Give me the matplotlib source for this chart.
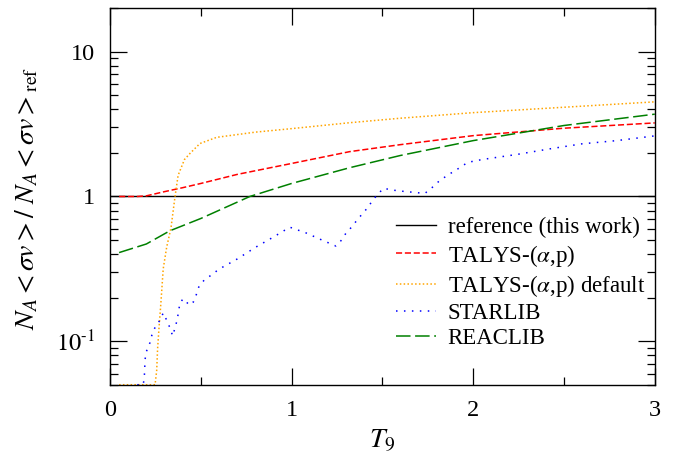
import numpy as np
import matplotlib
matplotlib.use("Agg")
import matplotlib.pyplot as plt
from matplotlib.ticker import FixedLocator, LogLocator, NullFormatter, MultipleLocator

plt.rcParams["font.family"] = ["Liberation Serif", "DejaVu Serif"]
plt.rcParams["mathtext.fontset"] = "stix"

# ---- data ----
ref_x = [0.0, 3.0]
ref_y = [1.0, 1.0]

talys_x = [0.05, 0.1, 0.15, 0.2, 0.3, 0.4, 0.5, 0.7, 1.0, 1.32, 1.6, 2.0, 2.5, 3.0]
talys_y = [1.0, 1.0, 1.0, 1.01, 1.08, 1.15, 1.23, 1.42, 1.69, 2.04, 2.28, 2.63, 2.96, 3.22]

default_x = [0.05, 0.248, 0.257, 0.262, 0.27, 0.28, 0.293, 0.312, 0.336, 0.358,
             0.375, 0.41, 0.44, 0.495, 0.587, 0.8, 1.0, 1.32, 1.6, 2.0, 2.5, 3.0]
default_y = [0.0502, 0.0502, 0.063, 0.089, 0.125, 0.183, 0.317, 0.447, 0.61, 1.0,
             1.4, 1.8, 1.98, 2.32, 2.56, 2.78, 2.94, 3.23, 3.47, 3.79, 4.13, 4.5]

starlib_x = [0.15, 0.183, 0.189, 0.193, 0.2, 0.22, 0.23, 0.248, 0.275, 0.293,
             0.312, 0.33, 0.345, 0.358, 0.37, 0.385, 0.403, 0.437, 0.459, 0.477,
             0.49, 0.52, 0.56, 0.6, 0.7, 0.8, 0.9, 0.99, 1.08, 1.16,
             1.244, 1.275, 1.3, 1.33, 1.36, 1.39, 1.42, 1.446, 1.473, 1.506,
             1.55, 1.6, 1.734, 1.78, 1.816, 1.87, 1.926, 1.97, 2.05, 2.24,
             2.42, 2.6, 2.79, 3.0]
starlib_y = [0.0502, 0.0502, 0.057, 0.075, 0.085, 0.098, 0.11, 0.125, 0.14, 0.157,
             0.14, 0.124, 0.109, 0.124, 0.141, 0.184, 0.197, 0.178, 0.187, 0.213,
             0.24, 0.266, 0.288, 0.315, 0.37, 0.445, 0.525, 0.614, 0.56, 0.505,
             0.455, 0.5, 0.56, 0.614, 0.686, 0.76, 0.84, 0.94, 1.03, 1.14,
             1.11, 1.09, 1.05, 1.17, 1.29, 1.43, 1.58, 1.72, 1.80, 1.95,
             2.13, 2.31, 2.43, 2.62]

reaclib_x = [0.05, 0.2, 0.33, 0.5, 0.77, 1.0, 1.32, 1.6, 2.0, 2.5, 3.0]
reaclib_y = [0.41, 0.47, 0.58, 0.705, 1.0, 1.23, 1.58, 1.92, 2.43, 3.09, 3.7]

# ---- figure ----
fig = plt.figure(figsize=(6.75, 4.62), dpi=100)
ax = fig.add_axes([0.163, 0.1667, 0.807, 0.816])

ax.plot(ref_x, ref_y, color="black", lw=1.0, label="reference (this work)")
ax.plot(talys_x, talys_y, color="#ff0000", lw=1.1, ls=(0, (4, 1.8)),
        label=r"TALYS-($\alpha$,p)")
ax.plot(default_x, default_y, color="#ffa500", lw=1.1, ls=(0, (1, 1.5)),
        label=r"TALYS-($\alpha$,p) default")
ax.plot(starlib_x, starlib_y, color="#0000ff", lw=1.1, ls=(0, (1, 4.2)),
        label="STARLIB")
ax.plot(reaclib_x, reaclib_y, color="#008000", lw=1.1, ls=(0, (9.5, 3)),
        label="REACLIB")

ax.set_yscale("log")
ax.set_xlim(0, 3)
ax.set_ylim(0.05, 20)

ax.xaxis.set_major_locator(MultipleLocator(1))
ax.xaxis.set_minor_locator(MultipleLocator(0.5))
ax.yaxis.set_major_locator(FixedLocator([0.1, 1, 10]))
ax.yaxis.set_minor_locator(LogLocator(base=10, subs=np.arange(2, 10)))
ax.yaxis.set_minor_formatter(NullFormatter())
ax.set_yticklabels([r"$10^{\text{-1}}$", "1", "10"])

ax.tick_params(which="both", direction="in", top=True, right=True,
               labelsize=17.5, width=0.9)
ax.tick_params(axis="x", pad=11)
ax.tick_params(axis="y", pad=11)
ax.tick_params(which="major", length=12)
ax.tick_params(which="minor", length=6)
for s in ax.spines.values():
    s.set_linewidth(1.0)

ax.set_xlabel(r"$T_9$", fontsize=20, labelpad=4)
ax.set_ylabel(r"$N_A < \sigma v > /\ N_A < \sigma v >_{\rm ref}$", fontsize=20)
ax.yaxis.set_label_coords(-0.127, 0.495)

ax.legend(loc="upper left", bbox_to_anchor=(0.525, 0.445), frameon=False,
          fontsize=16.5, handlelength=1.75, handletextpad=0.5, labelspacing=0.18,
          borderaxespad=0, borderpad=0)

fig.savefig("out.png", dpi=100)
